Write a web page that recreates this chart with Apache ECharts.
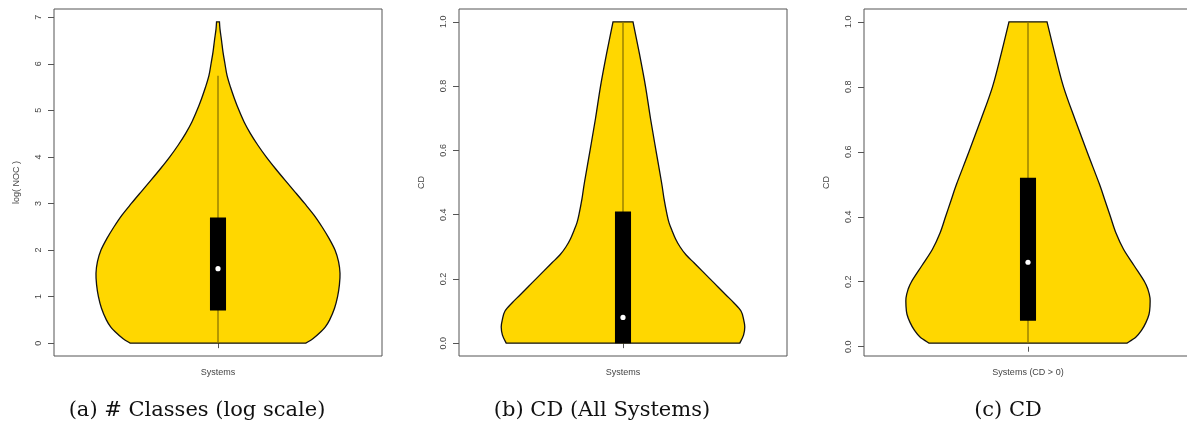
<!DOCTYPE html>
<html>
<head>
<meta charset="utf-8">
<script src="https://cdn.jsdelivr.net/npm/echarts@6/dist/echarts.min.js"></script>
<style>
html,body{margin:0;padding:0;background:#fff;}
#chart{width:1187px;height:426px;}
</style>
</head>
<body>
<div id="chart"></div>
<script>
// ---------- data ----------
const categoriesA = ['Systems'];
const categoriesB = ['Systems'];
const categoriesC = ['Systems (CD > 0)'];

const ticksA = [0, 1, 2, 3, 4, 5, 6, 7];
const ticksB = [0, 0.2, 0.4, 0.6, 0.8, 1.0];
const ticksC = [0, 0.2, 0.4, 0.6, 0.8, 1.0];

// violin profiles: value levels and relative density (half-width, max = 1)
const violinA_y = [0, 0.1, 0.25, 0.35, 0.5, 0.75, 1, 1.25, 1.5, 1.75, 2, 2.25, 2.5, 2.75, 3, 3.25, 3.5, 3.75, 4, 4.25, 4.5, 4.75, 5, 5.25, 5.5, 5.75, 6, 6.25, 6.5, 6.75, 6.9];
const violinA_d = [0.72, 0.78, 0.845, 0.88, 0.915, 0.955, 0.98, 0.995, 1.0, 0.988, 0.959, 0.91, 0.852, 0.787, 0.71, 0.63, 0.549, 0.47, 0.395, 0.327, 0.266, 0.214, 0.172, 0.135, 0.102, 0.074, 0.057, 0.041, 0.029, 0.016, 0.012];

const violinB_y = [0, 0.025, 0.05, 0.075, 0.1, 0.125, 0.15, 0.175, 0.2, 0.225, 0.25, 0.275, 0.3, 0.325, 0.35, 0.375, 0.4, 0.45, 0.5, 0.6, 0.7, 0.8, 0.9, 1.0];
const violinB_d = [0.957, 0.988, 0.998, 0.988, 0.967, 0.91, 0.844, 0.779, 0.713, 0.648, 0.582, 0.516, 0.467, 0.43, 0.402, 0.377, 0.361, 0.336, 0.316, 0.27, 0.225, 0.184, 0.135, 0.082];

const violinC_y = [0.011, 0.03, 0.05, 0.075, 0.1, 0.125, 0.15, 0.175, 0.2, 0.25, 0.3, 0.35, 0.4, 0.45, 0.5, 0.6, 0.7, 0.8, 0.9, 1.0];
const violinC_d = [0.811, 0.885, 0.93, 0.967, 0.992, 1.0, 1.0, 0.984, 0.955, 0.869, 0.783, 0.721, 0.676, 0.631, 0.586, 0.484, 0.385, 0.291, 0.221, 0.156];

// box stats: [whisker low, q1, median, q3, whisker high]
const statsA = [0, 0.7, 1.6, 2.7, 5.74];
const statsB = [0, 0, 0.08, 0.41, 1.0];
const statsC = [0.011, 0.08, 0.26, 0.52, 1.0];

const yNames = ['log( NOC )', 'CD', 'CD'];
const captions = ['(a) # Classes (log scale)', '(b) CD (All Systems)', '(c) CD'];

// ---------- layout / style ----------
const GOLD = '#FFD700';
const gridLefts = [54, 459, 864];
const captionX = [197, 602, 1008];
const PLOT_W = 328;
const WIDTH_FACTOR = 0.372;   // max half-width as fraction of band width
const BOX_FACTOR = 0.049;     // box width as fraction of band width

const panels = [
  {cats: categoriesA, ticks: ticksA, vy: violinA_y, vd: violinA_d, st: statsA, fmt: v => String(v)},
  {cats: categoriesB, ticks: ticksB, vy: violinB_y, vd: violinB_d, st: statsB, fmt: v => v.toFixed(1)},
  {cats: categoriesC, ticks: ticksC, vy: violinC_y, vd: violinC_d, st: statsC, fmt: v => v.toFixed(1)}
];

const lab = {fontFamily: 'Liberation Sans', fontSize: 9, color: '#444'};

// Catmull-Rom smooth path through pixel points (rendering helper)
function smoothSeg(pts) {
  let d = '';
  for (let i = 0; i < pts.length - 1; i++) {
    const p0 = pts[Math.max(i - 1, 0)], p1 = pts[i], p2 = pts[i + 1], p3 = pts[Math.min(i + 2, pts.length - 1)];
    const c1x = p1[0] + (p2[0] - p0[0]) / 6, c1y = p1[1] + (p2[1] - p0[1]) / 6;
    const c2x = p2[0] - (p3[0] - p1[0]) / 6, c2y = p2[1] - (p3[1] - p1[1]) / 6;
    d += ' C' + c1x + ' ' + c1y + ' ' + c2x + ' ' + c2y + ' ' + p2[0] + ' ' + p2[1];
  }
  return d;
}

const grid = [], xAxis = [], yAxis = [], series = [];
panels.forEach((p, i) => {
  const lo = Math.min(...p.vy), hi = Math.max(...p.vy);
  const pad = 0.04 * (hi - lo);
  grid.push({left: gridLefts[i], top: 9, width: PLOT_W, bottom: 70, show: true,
    outerBoundsMode: 'none', containLabel: false,
    borderColor: '#555', borderWidth: 1, backgroundColor: 'transparent'});
  xAxis.push({type: 'category', gridIndex: i, data: p.cats,
    axisLine: {show: false},
    axisTick: {show: true, alignWithLabel: true, length: 5, lineStyle: {color: '#555'}},
    axisLabel: Object.assign({margin: 12}, lab),
    splitLine: {show: false}});
  yAxis.push({type: 'value', gridIndex: i, min: lo - pad, max: hi + pad,
    name: yNames[i], nameLocation: 'middle', nameGap: 33, nameRotate: 90,
    nameTextStyle: Object.assign({}, lab),
    axisLine: {show: false},
    axisTick: {show: true, length: 6, customValues: p.ticks, lineStyle: {color: '#555'}},
    axisLabel: Object.assign({rotate: 90, margin: 11, customValues: p.ticks, formatter: p.fmt}, lab),
    splitLine: {show: false}});
  series.push({
    type: 'custom', xAxisIndex: i, yAxisIndex: i, silent: true,
    data: [[0, p.st[2]]],
    renderItem: function (params, api) {
      const bw = api.size([1, 0])[0];
      const cx = api.coord([0, 0])[0];
      const left = [], right = [];
      for (let k = 0; k < p.vy.length; k++) {
        const py = api.coord([0, p.vy[k]])[1];
        left.push([cx - p.vd[k] * WIDTH_FACTOR * bw, py]);
        right.push([cx + p.vd[k] * WIDTH_FACTOR * bw, py]);
      }
      right.reverse();
      let d = 'M' + left[0][0] + ' ' + left[0][1] + smoothSeg(left);
      d += ' L' + right[0][0] + ' ' + right[0][1] + smoothSeg(right) + ' Z';
      const yLo = api.coord([0, p.st[0]])[1];
      const yQ1 = api.coord([0, p.st[1]])[1];
      const yMed = api.coord([0, p.st[2]])[1];
      const yQ3 = api.coord([0, p.st[3]])[1];
      const yHi = api.coord([0, p.st[4]])[1];
      const boxW = BOX_FACTOR * bw;
      return {
        type: 'group',
        children: [
          {type: 'path', shape: {pathData: d},
            style: {fill: GOLD, stroke: '#111', lineWidth: 1.3}},
          {type: 'line', shape: {x1: cx, y1: yLo, x2: cx, y2: yHi},
            style: {stroke: '#8c7600', lineWidth: 1.3}},
          {type: 'rect', shape: {x: cx - boxW / 2, y: yQ3, width: boxW, height: yQ1 - yQ3},
            style: {fill: '#000'}},
          {type: 'circle', shape: {cx: cx, cy: yMed, r: 2.6},
            style: {fill: '#fff'}}
        ]
      };
    }
  });
});

const graphic = captions.map((t, i) => ({
  type: 'text', x: captionX[i], y: 411,
  style: {text: t, fontFamily: 'DejaVu Serif', fontSize: 21, fill: '#111',
    textAlign: 'center', textVerticalAlign: 'middle'}
}));

const chart = echarts.init(document.getElementById('chart'), null, {renderer: 'canvas'});
chart.setOption({
  animation: false,
  backgroundColor: '#fff',
  grid, xAxis, yAxis, series, graphic
});
</script>
</body>
</html>
